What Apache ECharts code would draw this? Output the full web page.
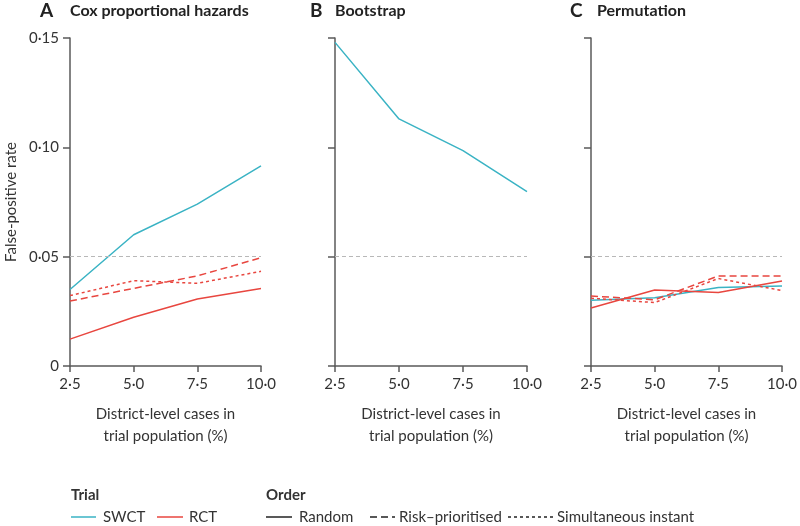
<!DOCTYPE html>
<html>
<head>
<meta charset="utf-8">
<script src="https://cdn.jsdelivr.net/npm/echarts@6/dist/echarts.min.js"></script>
<style>html,body{margin:0;padding:0;background:#fff;}#c{width:800px;height:526px;}</style>
</head>
<body>
<div id="c"></div>
<script>
// ---- Data ----
const xValues = [2.5, 5.0, 7.5, 10.0];
const xTicks = ['2·5', '5·0', '7·5', '10·0'];
const yTicks = ['0', '0·05', '0·10', '0·15'];
const panelTitles = ['Cox proportional hazards', 'Bootstrap', 'Permutation'];
const panelLetters = ['A', 'B', 'C'];

const coxSwctRandom = [0.035, 0.060, 0.074, 0.0915];
const coxRctRandom = [0.0123, 0.0223, 0.0306, 0.0354];
const coxRctRisk = [0.0297, 0.0355, 0.0412, 0.0495];
const coxRctSimul = [0.0322, 0.0390, 0.0378, 0.0433];

const bootSwctRandom = [0.148, 0.113, 0.0985, 0.0797];

const permSwctRandom = [0.0301, 0.0312, 0.0359, 0.0366];
const permRctRandom = [0.0265, 0.0348, 0.0336, 0.0389];
const permRctRisk = [0.0320, 0.0303, 0.0412, 0.0411];
const permRctSimul = [0.0310, 0.0290, 0.0400, 0.0345];

const refLine = 0.05;

// ---- Styles ----
const CYAN = '#3ab3c4';
const RED = '#e8463f';
const AXIS = '#5a5a5a';
const TXT = '#333';
const FONT = 'Lato';
const FS = 15;
const DASH_RISK = [7, 4];
const DASH_SIM = [3, 3];

const pts = arr => xValues.map((x, i) => [x, arr[i]]);

const grids = [
  {left: 70, width: 191, top: 38, height: 328},
  {left: 335, width: 192, top: 38, height: 328},
  {left: 591, width: 191, top: 38, height: 328}
];

const fmtX = v => { const i = xValues.indexOf(v); return i >= 0 ? xTicks[i] : ''; };
const fmtY = v => { const i = Math.round(v / 0.05); return yTicks[i] !== undefined ? yTicks[i] : ''; };

const xAxes = grids.map((g, i) => ({
  type: 'value', gridIndex: i, min: 2.5, max: 10, interval: 2.5,
  axisLine: {show: true, lineStyle: {color: AXIS, width: 1.5}},
  axisTick: {show: true, length: 6, lineStyle: {color: AXIS, width: 1.5}},
  splitLine: {show: false},
  axisLabel: {formatter: fmtX, color: TXT, fontFamily: FONT, fontSize: FS, margin: 11, showMinLabel: true, showMaxLabel: true},
  name: 'District-level cases in\ntrial population (%)',
  nameLocation: 'middle', nameGap: 37,
  nameTextStyle: {color: TXT, fontFamily: FONT, fontSize: FS, lineHeight: 22, align: 'center', verticalAlign: 'top'}
}));

const yAxes = grids.map((g, i) => ({
  type: 'value', gridIndex: i, min: 0, max: 0.15, interval: 0.05,
  axisLine: {show: true, lineStyle: {color: AXIS, width: 1.5}},
  axisTick: {show: true, length: 7, lineStyle: {color: AXIS, width: 1.5}},
  splitLine: {show: false},
  axisLabel: {show: i === 0, formatter: fmtY, color: TXT, fontFamily: FONT, fontSize: FS, margin: 11},
  name: i === 0 ? 'False-positive rate' : '',
  nameLocation: 'middle', nameGap: 51,
  nameTextStyle: {color: TXT, fontFamily: FONT, fontSize: FS}
}));

function line(name, idx, data, color, dash) {
  return {
    type: 'line', name: name, xAxisIndex: idx, yAxisIndex: idx,
    data: pts(data), symbol: 'none', silent: true,
    lineStyle: {color: color, width: 1.5, type: dash || 'solid'},
    z: 3
  };
}

function ref(idx) {
  return {
    type: 'line', xAxisIndex: idx, yAxisIndex: idx, data: [], silent: true,
    markLine: {silent: true, symbol: 'none', label: {show: false},
      lineStyle: {color: '#b8b8b8', type: [4, 3], width: 1},
      data: [{yAxis: refLine}]}
  };
}

const series = [
  ref(0), ref(1), ref(2),
  line('SWCT Random', 0, coxSwctRandom, CYAN),
  line('RCT Random', 0, coxRctRandom, RED),
  line('RCT Risk', 0, coxRctRisk, RED, DASH_RISK),
  line('RCT Simul', 0, coxRctSimul, RED, DASH_SIM),
  line('SWCT Random', 1, bootSwctRandom, CYAN),
  line('SWCT Random', 2, permSwctRandom, CYAN),
  line('RCT Random', 2, permRctRandom, RED),
  line('RCT Risk', 2, permRctRisk, RED, DASH_RISK),
  line('RCT Simul', 2, permRctSimul, RED, DASH_SIM)
];

// ---- Titles and legend (graphic) ----
const titleX = [[40, 70], [310, 335], [570, 597]];
const graphics = [];
panelLetters.forEach((L, i) => {
  graphics.push({type: 'text', x: titleX[i][0], y: 11,
    style: {text: L, font: 'bold 19px ' + FONT, fill: '#222', textVerticalAlign: 'middle'}});
  graphics.push({type: 'text', x: titleX[i][1], y: 11,
    style: {text: panelTitles[i], font: 'bold 16px ' + FONT, fill: '#222', textVerticalAlign: 'middle'}});
});

function legLine(x1, x2, y, color, dash) {
  return {type: 'line', shape: {x1: x1, y1: y, x2: x2, y2: y},
    style: {stroke: color, lineWidth: 1.5, lineDash: dash || null}};
}
function legText(x, y, t, bold) {
  return {type: 'text', x: x, y: y,
    style: {text: t, font: (bold ? 'bold ' : '') + FS + 'px ' + FONT, fill: TXT, textVerticalAlign: 'middle'}};
}
const ly = 517;
graphics.push(legText(71, 495, 'Trial', true));
graphics.push(legLine(71, 96, ly, CYAN));
graphics.push(legText(103, ly, 'SWCT'));
graphics.push(legLine(157, 183, ly, RED));
graphics.push(legText(189, ly, 'RCT'));
graphics.push(legText(266, 495, 'Order', true));
graphics.push(legLine(266, 292, ly, '#222'));
graphics.push(legText(299, ly, 'Random'));
graphics.push(legLine(370, 395, ly, '#222', [7, 4]));
graphics.push(legText(399, ly, 'Risk–prioritised'));
graphics.push(legLine(508, 553, ly, '#222', [3, 3]));
graphics.push(legText(557, ly, 'Simultaneous instant'));

const chart = echarts.init(document.getElementById('c'), null, {renderer: 'canvas'});
chart.setOption({
  animation: false,
  backgroundColor: '#fff',
  grid: grids,
  xAxis: xAxes,
  yAxis: yAxes,
  series: series,
  graphic: graphics
});
</script>
</body>
</html>
